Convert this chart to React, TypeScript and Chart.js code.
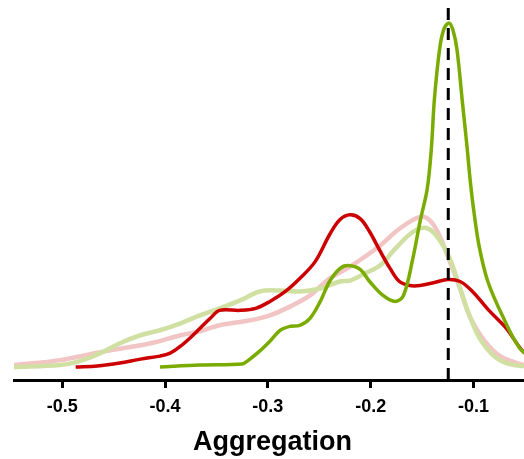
import React, { useEffect, useRef } from "react";
import { Chart, registerables } from "chart.js";

Chart.register(...registerables);

// x positions (Aggregation) and density values for each series
const darkGreenX = [-0.405, -0.366, -0.325, -0.320, -0.308, -0.298, -0.288, -0.278, -0.269, -0.259, -0.249, -0.240, -0.230, -0.222, -0.210, -0.201, -0.188, -0.176, -0.168, -0.159, -0.152, -0.145, -0.141, -0.138, -0.133, -0.129, -0.124, -0.120, -0.116, -0.111, -0.106, -0.103, -0.099, -0.094, -0.086, -0.072, -0.055, -0.040];
const darkGreenY = [0.1, 0.3, 0.4, 0.7, 1.7, 2.7, 3.8, 4.2, 4.3, 5.0, 6.7, 8.7, 10.0, 10.3, 9.9, 8.7, 7.3, 6.7, 7.3, 11.0, 14.7, 18.0, 22.0, 27.0, 32.0, 34.0, 34.7, 34.0, 32.0, 27.0, 22.0, 18.7, 15.3, 12.0, 8.7, 5.3, 2.0, 0.8];

const lightGreenX = [-0.547, -0.502, -0.483, -0.463, -0.444, -0.424, -0.405, -0.385, -0.366, -0.347, -0.327, -0.308, -0.288, -0.269, -0.249, -0.230, -0.220, -0.206, -0.191, -0.176, -0.160, -0.147, -0.136, -0.123, -0.113, -0.104, -0.094, -0.081, -0.068, -0.052, -0.036];
const lightGreenY = [0.1, 0.3, 0.7, 1.5, 2.5, 3.3, 3.8, 4.5, 5.3, 6.0, 6.8, 7.7, 7.8, 7.7, 8.0, 8.7, 8.8, 9.5, 10.3, 12.0, 13.6, 14.1, 13.3, 11.0, 8.0, 5.3, 3.0, 1.3, 0.5, 0.2, 0.1];

const pinkX = [-0.547, -0.502, -0.463, -0.414, -0.385, -0.366, -0.347, -0.317, -0.298, -0.278, -0.259, -0.240, -0.220, -0.191, -0.172, -0.152, -0.142, -0.133, -0.123, -0.113, -0.104, -0.089, -0.074, -0.051, -0.036];
const pinkY = [0.3, 0.8, 1.6, 2.5, 3.3, 3.7, 4.3, 4.8, 5.3, 6.2, 7.3, 9.0, 10.2, 12.3, 14.0, 15.2, 14.8, 13.3, 10.7, 8.0, 5.3, 2.7, 1.2, 0.3, 0.1];

const redX = [-0.487, -0.466, -0.444, -0.424, -0.405, -0.395, -0.385, -0.376, -0.366, -0.356, -0.347, -0.327, -0.312, -0.298, -0.283, -0.269, -0.254, -0.240, -0.230, -0.220, -0.210, -0.201, -0.191, -0.181, -0.172, -0.162, -0.152, -0.138, -0.125, -0.113, -0.101, -0.084, -0.068, -0.052, -0.036];
const redY = [0.1, 0.2, 0.5, 0.9, 1.2, 1.5, 2.2, 3.0, 4.0, 5.0, 5.8, 5.8, 6.0, 6.7, 7.7, 9.0, 10.7, 13.4, 14.9, 15.4, 15.0, 13.7, 11.8, 10.0, 8.7, 8.3, 8.3, 8.6, 8.9, 8.7, 7.7, 5.7, 4.0, 1.7, 0.4];

const referenceX = -0.1245;
const tickValues = [-0.5, -0.4, -0.3, -0.2, -0.1];
const xMin = -0.547;
const xMax = -0.044;
const yMin = -1.2;
const yMax = 37;

const zip = (xs: number[], ys: number[]) => xs.map((x, i) => ({ x, y: ys[i] }));

export default function App() {
  const ref = useRef<HTMLCanvasElement | null>(null);
  useEffect(() => {
    document.body.style.margin = "0";
    const canvas = ref.current!;
    const curve = {
      pointRadius: 0,
      tension: 0.35,
      fill: false,
    };
    const chart = new Chart(canvas, {
      type: "line",
      data: {
        datasets: [
          {
            data: [
              { x: referenceX, y: yMax },
              { x: referenceX, y: yMin },
            ],
            borderColor: "#000000",
            borderWidth: 3,
            borderDash: [12, 8],
            borderDashOffset: 12,
            pointRadius: 0,
            tension: 0,
            order: 0,
          },
          { ...curve, data: zip(darkGreenX, darkGreenY), borderColor: "#7aab00", borderWidth: 3.5, order: 1 },
          { ...curve, data: zip(redX, redY), borderColor: "#cc0000", borderWidth: 3.5, order: 2 },
          { ...curve, data: zip(lightGreenX, lightGreenY), borderColor: "#d0e0a2", borderWidth: 4.5, order: 3 },
          { ...curve, data: zip(pinkX, pinkY), borderColor: "#f2c5c5", borderWidth: 4.5, order: 4 },
        ],
      },
      options: {
        responsive: false,
        maintainAspectRatio: false,
        animation: false,
        devicePixelRatio: 1,
        layout: { padding: { left: 14, right: 1, top: 0, bottom: 0 } },
        plugins: { legend: { display: false }, tooltip: { enabled: false } },
        scales: {
          x: {
            type: "linear",
            min: xMin,
            max: xMax,
            afterBuildTicks: (scale: any) => {
              scale.ticks = tickValues.map((v) => ({ value: v }));
            },
            ticks: {
              color: "#000000",
              padding: 8,
              font: { family: "'Liberation Sans', Arial, sans-serif", size: 18, weight: "bold" },
              callback: (v: any) => Number(v).toFixed(1),
              maxRotation: 0,
            },
            grid: {
              drawOnChartArea: false,
              drawTicks: true,
              tickLength: 8,
              tickWidth: 3,
              tickColor: "#000000",
            },
            border: { color: "#000000", width: 3 },
            title: {
              display: true,
              text: "Aggregation",
              color: "#000000",
              font: { family: "'Liberation Sans', Arial, sans-serif", size: 27, weight: "bold" },
              padding: { top: 1, bottom: 0 },
            },
          },
          y: { display: false, min: yMin, max: yMax },
        },
      },
    } as any);
    return () => chart.destroy();
  }, []);
  return (
    <div style={{ position: "absolute", left: 0, top: 0, width: 524, height: 459, overflow: "hidden" }}>
      <canvas ref={ref} width={532} height={459} style={{ display: "block" }} />
    </div>
  );
}
